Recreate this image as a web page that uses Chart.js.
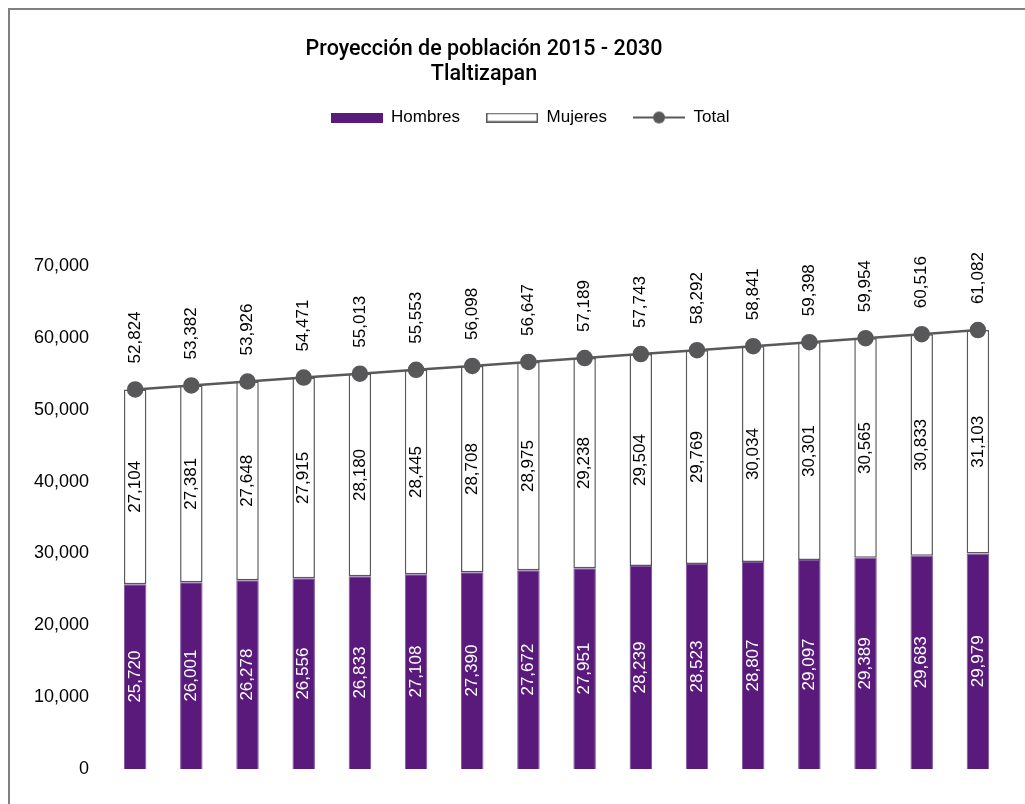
<!DOCTYPE html>
<html lang="es">
<head>
<meta charset="utf-8">
<title>Proyección de población 2015 - 2030 Tlaltizapan</title>
<script src="https://cdn.jsdelivr.net/npm/chart.js@4.4.1/dist/chart.umd.min.js"></script>
<style>
  html, body { margin: 0; padding: 0; background: #fff; overflow: hidden; }
  #box {
    position: absolute; left: 8px; top: 8px;
    width: 1036px; height: 794px;
    border-left: 2px solid #808080; border-top: 2px solid #808080;
  }
  #titulo {
    position: absolute; left: 0; top: 35px; width: 968px;
    text-align: center; font: 500 21.5px/25px Roboto, sans-serif; color: #000;
    z-index: 2;
  }
</style>
</head>
<body>
<div id="titulo">Proyección de población 2015 - 2030<br>Tlaltizapan</div>
<div id="box"><canvas id="myChart"></canvas></div>
<script>
// datos
const years = ['2015','2016','2017','2018','2019','2020','2021','2022','2023','2024','2025','2026','2027','2028','2029','2030'];
const hombres = [25720, 26001, 26278, 26556, 26833, 27108, 27390, 27672, 27951, 28239, 28523, 28807, 29097, 29389, 29683, 29979];
const mujeres = [27104, 27381, 27648, 27915, 28180, 28445, 28708, 28975, 29238, 29504, 29769, 30034, 30301, 30565, 30833, 31103];
const total = [52824, 53382, 53926, 54471, 55013, 55553, 56098, 56647, 57189, 57743, 58292, 58841, 59398, 59954, 60516, 61082];

const purple = '#5a1a7b';
const grey = '#595959';
const fmt = (v) => v.toLocaleString('en-US');

// little pictures for the legend
function swatch(w, h, draw) {
    const c = document.createElement('canvas');
    c.width = w; c.height = h;
    draw(c.getContext('2d'));
    return c;
}
const icoHombres = swatch(52, 10, (g) => { g.fillStyle = purple; g.fillRect(0, 0, 52, 10); });
const icoMujeres = swatch(52, 10, (g) => {
    g.fillStyle = '#fff'; g.fillRect(0, 0, 52, 10);
    g.strokeStyle = grey; g.lineWidth = 1.5; g.strokeRect(0.75, 0.75, 50.5, 8.5);
});
const icoTotal = swatch(52, 14, (g) => {
    g.strokeStyle = grey; g.lineWidth = 2;
    g.beginPath(); g.moveTo(0, 7); g.lineTo(52, 7); g.stroke();
    g.fillStyle = '#58585a'; g.beginPath(); g.arc(26, 7, 6, 0, Math.PI * 2); g.fill();
});
const icons = [icoHombres, icoMujeres, icoTotal];

// value labels, rotated like the original
const etiquetas = {
    id: 'etiquetas',
    afterDatasetsDraw(chart) {
        const ctx = chart.ctx;
        ctx.save();
        ctx.font = '17px "Liberation Sans"';
        ctx.textBaseline = 'middle';
        chart.data.datasets.forEach((ds, i) => {
            const meta = chart.getDatasetMeta(i);
            meta.data.forEach((el, j) => {
                ctx.save();
                if (ds.type === 'line') {
                    ctx.translate(el.x, el.y - 26);
                    ctx.textAlign = 'left';
                    ctx.fillStyle = '#000';
                } else {
                    ctx.translate(el.x, (el.y + el.base) / 2);
                    ctx.textAlign = 'center';
                    ctx.fillStyle = i === 0 ? '#fff' : '#000';
                }
                ctx.rotate(-Math.PI / 2);
                ctx.fillText(fmt(ds.data[j]), 0, 0);
                ctx.restore();
            });
        });
        ctx.restore();
    }
};

// leave the empty band between legend and plot
const legendGap = {
    id: 'legendGap',
    afterInit(chart) {
        const fit = chart.legend.fit;
        chart.legend.fit = function () {
            fit.call(this);
            this.height += 130;
        };
    }
};

const data = {
    labels: years,
    datasets: [{
        type: 'bar',
        label: 'Hombres',
        data: hombres,
        backgroundColor: purple,
        borderColor: '#7d5499',
        borderWidth: 1,
        stack: 'pob',
        order: 1
    }, {
        type: 'bar',
        label: 'Mujeres',
        data: mujeres,
        backgroundColor: '#fff',
        borderColor: grey,
        borderWidth: 1.5,
        borderSkipped: false,
        stack: 'pob',
        order: 1
    }, {
        type: 'line',
        label: 'Total',
        data: total,
        borderColor: grey,
        borderWidth: 2.5,
        pointRadius: 7,
        pointBackgroundColor: '#58585a',
        pointBorderColor: '#58585a',
        stack: 'tot',
        order: 0
    }]
};

const config = {
    type: 'bar',
    data: data,
    plugins: [etiquetas, legendGap],
    options: {
        responsive: true,
        maintainAspectRatio: false,
        animation: false,
        layout: { padding: { top: 73, left: 6, right: 2, bottom: 35 } },
        datasets: { bar: { categoryPercentage: 1, barPercentage: 0.4 } },
        plugins: {
            title: { display: false },
            tooltip: { enabled: false },
            legend: {
                display: true,
                labels: {
                    usePointStyle: true,
                    pointStyleWidth: 52,
                    padding: 26,
                    color: '#000',
                    font: { family: 'Liberation Sans', size: 17 },
                    generateLabels: (chart) => chart.data.datasets.map((ds, i) => ({
                        text: ds.label,
                        pointStyle: icons[i],
                        fillStyle: ds.backgroundColor,
                        strokeStyle: ds.borderColor,
                        lineWidth: 0,
                        hidden: false,
                        datasetIndex: i
                    }))
                }
            }
        },
        scales: {
            x: {
                stacked: true,
                display: false
            },
            y: {
                stacked: true,
                min: 0,
                max: 70000,
                border: { display: false },
                grid: { display: false, drawTicks: false },
                ticks: {
                    stepSize: 10000,
                    padding: 18,
                    color: '#000',
                    font: { family: 'Liberation Sans', size: 18 },
                    callback: (v) => fmt(v)
                }
            },
            // empty axis on the right: only keeps the margin of the original
            y2: {
                position: 'right',
                display: true,
                border: { display: false },
                grid: { display: false, drawTicks: false },
                ticks: { display: false },
                afterFit: (scale) => { scale.width = 38; }
            }
        }
    }
};

const myChart = new Chart(document.getElementById('myChart'), config);
</script>
</body>
</html>
